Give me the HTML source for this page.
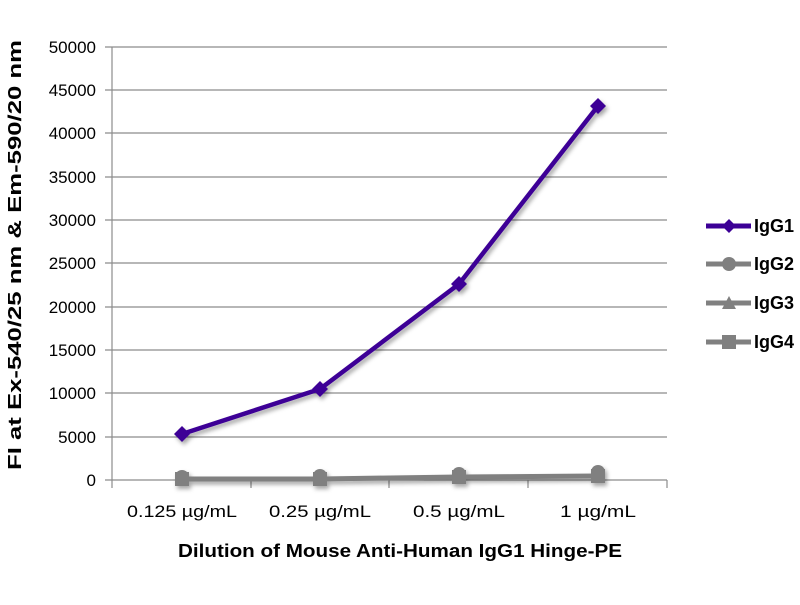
<!DOCTYPE html><html><head><style>body{margin:0;background:#fff}</style></head><body>
<svg width="800" height="600" xmlns="http://www.w3.org/2000/svg" font-family="Liberation Sans, sans-serif">
<defs><filter id="s" x="-10%" y="-10%" width="130%" height="130%"><feDropShadow dx="2" dy="3" stdDeviation="2" flood-color="#000" flood-opacity="0.35"/></filter></defs>
<g stroke="#8c8c8c" stroke-width="1.2">
<line x1="105" y1="47" x2="667" y2="47"/><line x1="105" y1="90" x2="667" y2="90"/><line x1="105" y1="133" x2="667" y2="133"/><line x1="105" y1="177" x2="667" y2="177"/><line x1="105" y1="220" x2="667" y2="220"/><line x1="105" y1="263" x2="667" y2="263"/><line x1="105" y1="307" x2="667" y2="307"/><line x1="105" y1="350" x2="667" y2="350"/><line x1="105" y1="393" x2="667" y2="393"/><line x1="105" y1="437" x2="667" y2="437"/><line x1="105" y1="480" x2="667" y2="480"/>
<line x1="112" y1="47" x2="112" y2="488"/><line x1="251" y1="480" x2="251" y2="488"/><line x1="389" y1="480" x2="389" y2="488"/><line x1="528" y1="480" x2="528" y2="488"/><line x1="667" y1="480" x2="667" y2="488"/>
</g>
<g font-size="17" text-anchor="end" fill="#000">
<text x="96" y="53">50000</text><text x="96" y="96">45000</text><text x="96" y="139">40000</text><text x="96" y="183">35000</text><text x="96" y="226">30000</text><text x="96" y="269">25000</text><text x="96" y="313">20000</text><text x="96" y="356">15000</text><text x="96" y="399">10000</text><text x="96" y="443">5000</text><text x="96" y="486">0</text>
</g>
<g font-size="17" text-anchor="middle">
<text x="182" y="517" textLength="110" lengthAdjust="spacingAndGlyphs">0.125 µg/mL</text><text x="320" y="517" textLength="102" lengthAdjust="spacingAndGlyphs">0.25 µg/mL</text><text x="459" y="517" textLength="92" lengthAdjust="spacingAndGlyphs">0.5 µg/mL</text><text x="598" y="517" textLength="76" lengthAdjust="spacingAndGlyphs">1 µg/mL</text>
</g>
<text x="400" y="557" font-size="18" font-weight="bold" text-anchor="middle" textLength="444" lengthAdjust="spacingAndGlyphs">Dilution of Mouse Anti-Human IgG1 Hinge-PE</text>
<text transform="translate(21,255) rotate(-90)" font-size="18" font-weight="bold" text-anchor="middle" textLength="430" lengthAdjust="spacingAndGlyphs">FI at Ex-540/25 nm &amp; Em-590/20 nm</text>
<g filter="url(#s)">
<polyline points="182,479 320,479 459,477 598,476" fill="none" stroke="#808080" stroke-width="5"/>
<g fill="#808080"><rect x="175" y="472" width="14" height="14"/><rect x="313" y="472" width="14" height="14"/><rect x="452" y="470" width="14" height="14"/><rect x="591" y="469" width="14" height="14"/>
<circle cx="182" cy="477" r="7"/><circle cx="320" cy="476" r="7"/><circle cx="459" cy="474" r="7"/><circle cx="598" cy="472" r="7"/></g>
<polyline points="182,434 320,389 459,284 598,106" fill="none" stroke="#3c0096" stroke-width="4.5"/>
<g fill="#3c0096"><path d="M182,426l8,8-8,8-8-8z"/><path d="M320,381l8,8-8,8-8-8z"/><path d="M459,276l8,8-8,8-8-8z"/><path d="M598,98l8,8-8,8-8-8z"/></g>
</g>
<g stroke-width="5">
<line x1="706" y1="226" x2="751" y2="226" stroke="#3c0096"/><line x1="706" y1="264" x2="751" y2="264" stroke="#808080"/><line x1="706" y1="303" x2="751" y2="303" stroke="#808080"/><line x1="706" y1="342" x2="751" y2="342" stroke="#808080"/>
</g>
<path d="M729,219l7,7-7,7-7-7z" fill="#3c0096"/><circle cx="729" cy="264" r="7" fill="#808080"/><path d="M729,296l7,13h-14z" fill="#808080"/><rect x="722" y="335" width="14" height="14" fill="#808080"/>
<g font-size="18" font-weight="bold"><text x="754" y="232">IgG1</text><text x="754" y="270">IgG2</text><text x="754" y="309">IgG3</text><text x="754" y="348">IgG4</text></g>
</svg></body></html>
